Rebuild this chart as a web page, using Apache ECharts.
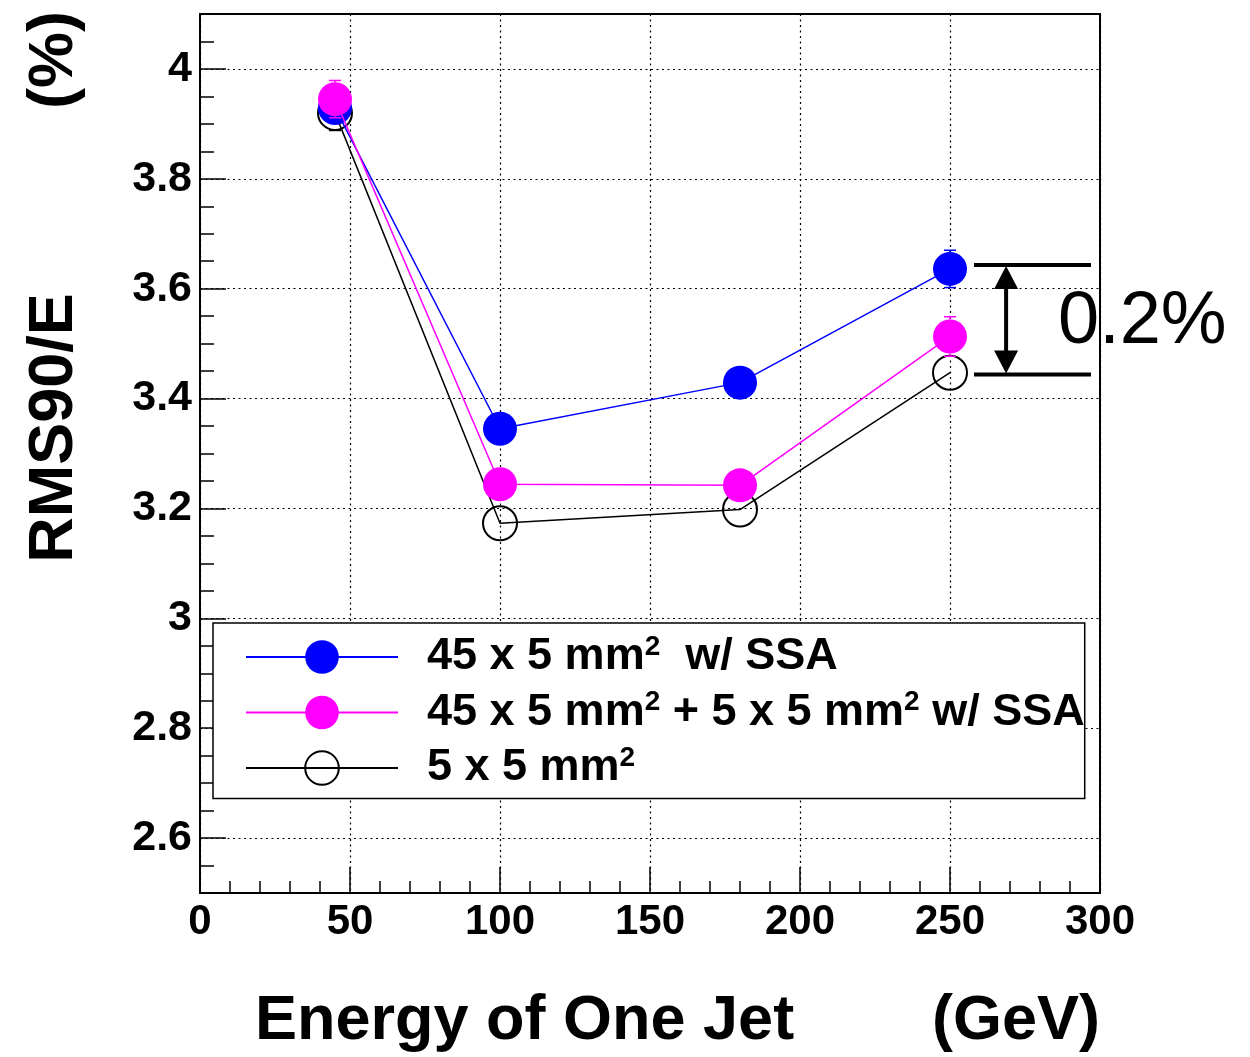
<!DOCTYPE html>
<html>
<head>
<meta charset="utf-8">
<script src="https://cdn.jsdelivr.net/npm/echarts@6/dist/echarts.min.js"></script>
<style>
  html, body { margin: 0; padding: 0; background: #fff; }
  #main { width: 1250px; height: 1057px; }
</style>
</head>
<body>
<div id="main"></div>
<script>
// jet energy (GeV)
const energies = [45, 100, 180, 250]
// RMS90/E (%) per configuration, with errors
const rmsSsa45 = [3.929, 3.345, 3.429, 3.636]
const errSsa45 = [0.03, 0.025, 0.028, 0.034]
const rmsSsaMixed = [3.945, 3.244, 3.242, 3.513]
const errSsaMixed = [0.034, 0.025, 0.025, 0.036]
const rms5x5 = [3.92, 3.173, 3.198, 3.447]
const err5x5 = [0.032, 0.025, 0.025, 0.03]
const yTickLabels = [2.6, 2.8, 3, 3.2, 3.4, 3.6, 3.8, 4]
// the "0.2%" bracket on the right
const gapLevels = [3.643, 3.444]
const gapSpan = [258, 297]
const gapArrowX = 268.7
const gapLabelX = 286
const gapLabel = '0.2%'

const FONT = 'Liberation Sans, Arial, Helvetica, sans-serif'
const MARKER = 34
const chart = echarts.init(document.getElementById('main'))

// error bars, not drawn inside the marker (ROOT style)
function errorSeries(name, color, vals, errs, z) {
  return {
    name: name,
    type: 'custom',
    z: z,
    silent: true,
    data: energies.map((x, i) => [x, vals[i] - errs[i], vals[i] + errs[i], vals[i]]),
    encode: { x: 0, y: [1, 2] },
    renderItem: function (params, api) {
      const lo = api.coord([api.value(0), api.value(1)])
      const hi = api.coord([api.value(0), api.value(2)])
      const c = api.coord([api.value(0), api.value(3)])
      const r = MARKER / 2
      const st = { stroke: color, lineWidth: 1.5 }
      const kids = []
      if (lo[1] - c[1] > r) {
        kids.push({ type: 'line', shape: { x1: c[0], y1: c[1] + r, x2: lo[0], y2: lo[1] }, style: st })
        kids.push({ type: 'line', shape: { x1: lo[0] - 6, y1: lo[1], x2: lo[0] + 6, y2: lo[1] }, style: st })
      }
      if (c[1] - hi[1] > r) {
        kids.push({ type: 'line', shape: { x1: c[0], y1: c[1] - r, x2: hi[0], y2: hi[1] }, style: st })
        kids.push({ type: 'line', shape: { x1: hi[0] - 6, y1: hi[1], x2: hi[0] + 6, y2: hi[1] }, style: st })
      }
      return { type: 'group', children: kids }
    }
  }
}

function lineSeries(name, color, vals, filled, z) {
  return {
    name: name,
    type: 'line',
    z: z,
    data: energies.map((x, i) => [x, vals[i]]),
    symbol: 'circle',
    symbolSize: MARKER,
    showSymbol: true,
    lineStyle: { color: color, width: 1.5 },
    itemStyle: filled
      ? { color: color }
      : { color: 'rgba(0,0,0,0)', borderColor: color, borderWidth: 2 },
    emphasis: { disabled: true }
  }
}

const legendRich = {
  t: { fontFamily: FONT, fontWeight: 'bold', fontSize: 45, color: '#000' },
  s: { fontFamily: FONT, fontWeight: 'bold', fontSize: 28, color: '#000', padding: [0, 0, 20, 0] }
}
const legendText = {
  a: '{t|45 x 5 mm}{s|2}{t|  w/ SSA}',
  b: '{t|45 x 5 mm}{s|2}{t| + 5 x 5 mm}{s|2}{t| w/ SSA}',
  c: '{t|5 x 5 mm}{s|2}'
}

const option = {
  animation: false,
  backgroundColor: '#fff',
  grid: {
    left: 200,
    right: 150,
    top: 14,
    bottom: 164,
    show: true,
    borderColor: '#000',
    borderWidth: 2
  },
  legend: {
    data: ['a', 'b', 'c'],
    orient: 'vertical',
    left: 213,
    top: 623,
    itemWidth: 152,
    itemHeight: 42,
    itemGap: 9,
    padding: [10, 0, 8, 32],
    backgroundColor: '#fff',
    borderColor: '#000',
    borderWidth: 1.5,
    selectedMode: false,
    formatter: function (name) { return legendText[name] },
    textStyle: { rich: legendRich, padding: [0, 0, 0, 24] }
  },
  xAxis: {
    type: 'value',
    min: 0,
    max: 300,
    interval: 50,
    axisLine: { show: true, lineStyle: { color: '#000', width: 2 } },
    axisTick: { show: true, inside: true, length: 26, lineStyle: { color: '#000', width: 1.5 } },
    minorTick: { show: true, splitNumber: 5, length: 12, lineStyle: { color: '#000', width: 1.5 } },
    axisLabel: { color: '#000', fontFamily: FONT, fontWeight: 'bold', fontSize: 42, margin: 8 },
    splitLine: { show: true, lineStyle: { color: '#000', width: 1.2, type: [2, 3.5] } }
  },
  yAxis: [
    {
      type: 'value',
      min: 2.5,
      max: 4.1,
      splitNumber: 8,
      axisLine: { show: true, lineStyle: { color: '#000', width: 2 } },
      axisTick: { show: true, inside: true, length: 26, lineStyle: { color: '#000', width: 1.5 } },
      axisLabel: {
        color: '#000', fontFamily: FONT, fontWeight: 'bold', fontSize: 43, margin: 8,
        formatter: function (v) {
          return yTickLabels.some(t => Math.abs(t - v) < 1e-6) ? String(v) : ''
        }
      },
      splitLine: { show: true, lineStyle: { color: '#000', width: 1.2, type: [2, 3.5] } }
    },
    {
      // minor ticks every 0.05
      type: 'value',
      position: 'left',
      min: 2.5,
      max: 4.1,
      interval: 0.05,
      axisLine: { show: false },
      axisTick: { show: true, inside: true, length: 14, lineStyle: { color: '#000', width: 1.5 } },
      axisLabel: { show: false },
      splitLine: { show: false }
    }
  ],
  series: [
    errorSeries('err-c', '#000', rms5x5, err5x5, 2),
    lineSeries('c', '#000', rms5x5, false, 2),
    errorSeries('err-a', '#0000ff', rmsSsa45, errSsa45, 3),
    lineSeries('a', '#0000ff', rmsSsa45, true, 3),
    errorSeries('err-b', '#ff00ff', rmsSsaMixed, errSsaMixed, 4),
    lineSeries('b', '#ff00ff', rmsSsaMixed, true, 4),
    {
      name: 'gap',
      type: 'custom',
      z: 5,
      silent: true,
      clip: false,
      data: [[gapSpan[0], gapLevels[0]]],
      renderItem: function (params, api) {
        const t0 = api.coord([gapSpan[0], gapLevels[0]])
        const t1 = api.coord([gapSpan[1], gapLevels[0]])
        const b0 = api.coord([gapSpan[0], gapLevels[1]])
        const b1 = api.coord([gapSpan[1], gapLevels[1]])
        const up = api.coord([gapArrowX, gapLevels[0]])
        const dn = api.coord([gapArrowX, gapLevels[1]])
        const lb = api.coord([gapLabelX, (gapLevels[0] + gapLevels[1]) / 2])
        const st = { stroke: '#000', lineWidth: 4 }
        return {
          type: 'group',
          children: [
            { type: 'line', shape: { x1: t0[0], y1: t0[1], x2: t1[0], y2: t1[1] }, style: st },
            { type: 'line', shape: { x1: b0[0], y1: b0[1], x2: b1[0], y2: b1[1] }, style: st },
            { type: 'line', shape: { x1: up[0], y1: up[1] + 20, x2: dn[0], y2: dn[1] - 20 }, style: st },
            {
              type: 'polygon',
              shape: { points: [[up[0], up[1] + 1], [up[0] - 12, up[1] + 24], [up[0] + 12, up[1] + 24]] },
              style: { fill: '#000' }
            },
            {
              type: 'polygon',
              shape: { points: [[dn[0], dn[1] - 1], [dn[0] - 12, dn[1] - 24], [dn[0] + 12, dn[1] - 24]] },
              style: { fill: '#000' }
            },
            {
              type: 'text',
              x: lb[0],
              y: lb[1] + 3,
              style: {
                text: gapLabel,
                fontFamily: FONT,
                fontSize: 74,
                fill: '#000',
                align: 'left',
                verticalAlign: 'middle'
              }
            }
          ]
        }
      }
    }
  ],
  graphic: [
    {
      type: 'text',
      x: 255,
      y: 1022,
      style: {
        text: 'Energy of One Jet',
        fontFamily: FONT, fontWeight: 'bold', fontSize: 63, fill: '#000',
        align: 'left', verticalAlign: 'middle'
      }
    },
    {
      type: 'text',
      x: 1100,
      y: 1022,
      style: {
        text: '(GeV)',
        fontFamily: FONT, fontWeight: 'bold', fontSize: 63, fill: '#000',
        align: 'right', verticalAlign: 'middle'
      }
    },
    {
      type: 'text',
      x: 55,
      y: 428,
      rotation: Math.PI / 2,
      style: {
        text: 'RMS90/E',
        fontFamily: FONT, fontWeight: 'bold', fontSize: 63, fill: '#000',
        align: 'center', verticalAlign: 'middle'
      }
    },
    {
      type: 'text',
      x: 55,
      y: 60,
      rotation: Math.PI / 2,
      style: {
        text: '(%)',
        fontFamily: FONT, fontWeight: 'bold', fontSize: 63, fill: '#000',
        align: 'center', verticalAlign: 'middle'
      }
    }
  ]
}

chart.setOption(option)
</script>
</body>
</html>
